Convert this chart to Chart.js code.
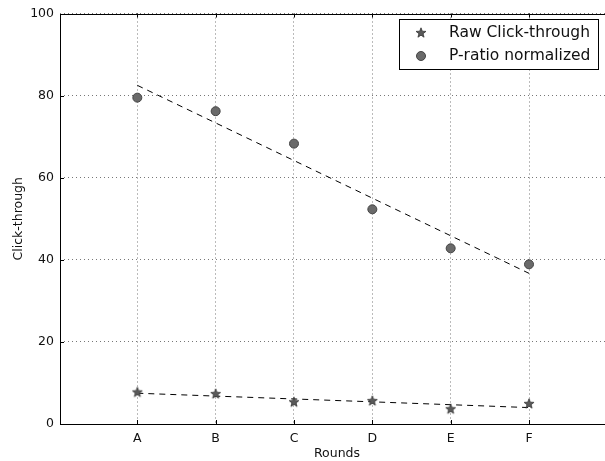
<!DOCTYPE html>
<html>
<head>
<meta charset="utf-8">
<title>Click-through</title>
<script src="https://cdn.jsdelivr.net/npm/chart.js@4.4.0/dist/chart.umd.min.js"></script>
<style>
body { margin: 0; background: #fff; overflow: hidden; }
#wrap { width: 605px; height: 461px; }
</style>
</head>
<body>
<div id="wrap"><canvas id="chart" width="605" height="461"></canvas></div>
<script>
// values
var rounds = ["A", "B", "C", "D", "E", "F"];
var rawClick = [7.7, 7.3, 5.3, 5.6, 3.6, 4.9];
var pRatio = [79.5, 76.2, 68.3, 52.3, 42.8, 38.9];
// dashed trend lines, value at A and at F
var rawTrend = [7.5, 4.0];
var pTrend = [82.5, 36.7];
var yTicks = [0, 20, 40, 60, 80, 100];

Chart.defaults.font.family = "'DejaVu Sans', sans-serif";
Chart.defaults.color = "#111";

// filled five point star like matplotlib '*'
function makeStar(r) {
	var c = document.createElement("canvas");
	var s = Math.ceil(r * 2 + 3);
	c.width = s; c.height = s;
	var g = c.getContext("2d");
	g.translate(s / 2, s / 2);
	g.beginPath();
	for (var i = 0; i < 10; i++) {
		var rad = i % 2 == 0 ? r : r * 0.42;
		var a = -Math.PI / 2 + i * Math.PI / 5;
		g.lineTo(rad * Math.cos(a), rad * Math.sin(a));
	}
	g.closePath();
	g.fillStyle = "#5a5a5a";
	g.fill();
	g.strokeStyle = "#333";
	g.lineWidth = 0.8;
	g.stroke();
	return c;
}
var star = makeStar(5.2);

function pts(arr) {
	return arr.map(function (v, i) { return { x: i + 1, y: v }; });
}
function trend(arr) {
	return [{ x: 1, y: arr[0] }, { x: rounds.length, y: arr[1] }];
}

var frame = {
	id: "frame",
	// the plot runs off the right edge of the picture, like the reference
	afterLayout: function (chart) {
		var a = chart.chartArea, xs = chart.scales.x;
		a.right = 614;
		a.width = a.right - a.left;
		xs.right = 614;
		xs.width = xs.right - xs.left;
		xs.configure();
	},
	afterDatasetsDraw: function (chart) {
		var a = chart.chartArea, ctx = chart.ctx;
		var xs = chart.scales.x, ys = chart.scales.y;
		ctx.save();
		ctx.strokeStyle = "#000";
		ctx.lineWidth = 1;
		ctx.beginPath();
		// inside tick marks
		rounds.forEach(function (r, i) {
			var px = Math.round(xs.getPixelForValue(i + 1)) + 0.5;
			ctx.moveTo(px, a.bottom); ctx.lineTo(px, a.bottom - 4);
			ctx.moveTo(px, a.top); ctx.lineTo(px, a.top + 4);
		});
		yTicks.forEach(function (v) {
			var py = Math.round(ys.getPixelForValue(v)) + 0.5;
			ctx.moveTo(a.left, py); ctx.lineTo(a.left + 4, py);
		});
		ctx.stroke();
		ctx.strokeRect(Math.round(a.left) + 0.5, Math.round(a.top) + 0.5,
			Math.round(a.right - a.left) - 1, Math.round(a.bottom - a.top) - 1);
		ctx.restore();
	},
	afterDraw: function (chart) {
		var ctx = chart.ctx;
		ctx.save();
		ctx.fillStyle = "#fff";
		ctx.fillRect(399.5, 19.5, 199, 50);
		ctx.strokeStyle = "#000";
		ctx.lineWidth = 1;
		ctx.strokeRect(399.5, 19.5, 199, 50);
		ctx.drawImage(star, 421 - star.width / 2, 33 - star.height / 2);
		ctx.beginPath();
		ctx.arc(421, 56, 4.5, 0, Math.PI * 2);
		ctx.fillStyle = "#6a6a6a";
		ctx.fill();
		ctx.strokeStyle = "#444";
		ctx.stroke();
		ctx.fillStyle = "#111";
		ctx.font = "15.5px 'DejaVu Sans'";
		ctx.textBaseline = "middle";
		ctx.fillText("Raw Click-through", 449, 33);
		ctx.fillText("P-ratio normalized", 449, 56);
		ctx.restore();
	}
};

new Chart(document.getElementById("chart"), {
	type: "scatter",
	data: {
		datasets: [
			{
				label: "Raw Click-through",
				data: pts(rawClick),
				pointStyle: star,
				order: 1
			},
			{
				label: "P-ratio normalized",
				data: pts(pRatio),
				pointRadius: 4.5,
				backgroundColor: "#6a6a6a",
				borderColor: "#444",
				borderWidth: 1,
				order: 1
			},
			{
				label: "raw fit",
				data: trend(rawTrend),
				showLine: true,
				pointRadius: 0,
				borderColor: "#000",
				borderWidth: 1,
				borderDash: [6, 5],
				order: 2
			},
			{
				label: "p fit",
				data: trend(pTrend),
				showLine: true,
				pointRadius: 0,
				borderColor: "#000",
				borderWidth: 1,
				borderDash: [6, 5],
				order: 2
			}
		]
	},
	options: {
		responsive: false,
		animation: false,
		layout: { padding: { top: 12, right: 0, left: 0, bottom: 0 } },
		plugins: {
			legend: { display: false },
			tooltip: { enabled: false }
		},
		scales: {
			x: {
				type: "linear",
				min: 0.013,
				max: 7.085,
				afterBuildTicks: function (scale) {
					scale.ticks = rounds.map(function (r, i) { return { value: i + 1 }; });
				},
				afterFit: function (scale) { scale.height = 37; },
				ticks: {
					font: { size: 12.5 },
					color: "#111",
					padding: 7,
					maxRotation: 0,
					callback: function (v) { return rounds[v - 1]; }
				},
				grid: { color: "#777", lineWidth: 1, drawTicks: false },
				border: { display: false, dash: [1, 3] },
				title: { display: true, text: "Rounds", font: { size: 12.5 }, color: "#111", padding: { top: 4, bottom: 0 } }
			},
			y: {
				min: 0,
				max: 100,
				afterBuildTicks: function (scale) {
					scale.ticks = yTicks.map(function (v) { return { value: v }; });
				},
				afterFit: function (scale) { scale.width = 60; },
				ticks: { font: { size: 12.5 }, color: "#111", padding: 6 },
				grid: { color: "#777", lineWidth: 1, drawTicks: false },
				border: { display: false, dash: [1, 3] },
				title: { display: true, text: "Click-through", font: { size: 12.5 }, color: "#111", padding: { top: 11, bottom: 0 } }
			}
		}
	},
	plugins: [frame]
});
</script>
</body>
</html>
